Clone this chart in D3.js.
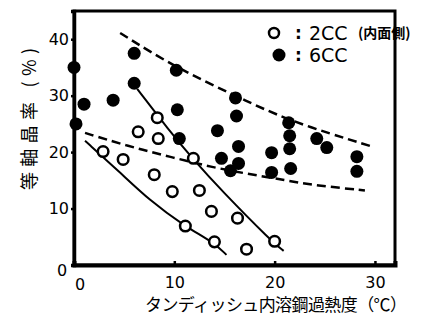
<!DOCTYPE html>
<html>
<head>
<meta charset="utf-8">
<script src="https://cdn.jsdelivr.net/npm/d3@7"></script>
<style>
  body { margin: 0; background: #fff; }
  svg { display: block; }
  .tick text { font-family: "DejaVu Sans", sans-serif; font-size: 16px; fill: #000; }
</style>
</head>
<body>
<div class="chart"></div>
<script>
var width = 425;
var height = 322;

// 2CC (inner side) - open circles
var cc2 = [[2.9, 20.1], [4.9, 18.7], [6.4, 23.6], [8.3, 26.1], [8.4, 22.4],
    [8.0, 16.0], [9.8, 13.0], [11.9, 18.9], [12.5, 13.2], [13.7, 9.5],
    [11.1, 6.9], [16.3, 8.3], [14.0, 4.1], [17.2, 2.8], [20.0, 4.2]];

// 6CC - filled circles
var cc6 = [[0, 35], [0.2, 25], [1, 28.5], [3.9, 29.2], [6, 37.5], [6, 32.2],
    [10.2, 34.5], [10.3, 27.5], [10.5, 22.4], [16.1, 29.6], [16.2, 26.4],
    [14.3, 23.8], [16.4, 21.0], [14.7, 18.9], [16.4, 18.0], [15.6, 16.7],
    [19.7, 19.9], [19.7, 16.4], [21.4, 25.2], [21.5, 22.9], [21.5, 20.6],
    [21.6, 17.1], [24.2, 22.4], [25.2, 20.8], [28.2, 19.2], [28.2, 16.6]];

// band curves (dashed) and trend curves (solid)
var upperBand = [[4.6, 41.1], [10.2, 34.9], [16.1, 30.0], [21.4, 25.5], [29.7, 21.0]];
var lowerBand = [[1.1, 23.4], [5.3, 21.1], [9.5, 19.2], [13.8, 17.3], [17.2, 16.2], [21.1, 15.0], [24.1, 14.1], [29.0, 13.2]];
var trend2cc = [[1.1, 22.0], [4.6, 16.4], [7.5, 11.5], [11.0, 6.9], [14.0, 3.9], [15.2, 1.8]];
var trend6cc = [[6.3, 31.2], [9.5, 23.8], [11.8, 18.9], [14.7, 13.2], [19.7, 4.2], [20.9, 2.5]];

var xTicks = [10, 20, 30];
var yTicks = [10, 20, 30, 40];

var margin = {left: 74, right: 30, top: 11, bottom: 57};

var x = d3.scaleLinear().domain([0, 32]).range([margin.left, width - margin.right]);
var y = d3.scaleLinear().domain([0, 45]).range([height - margin.bottom, margin.top]);

var svg = d3.select(".chart")
    .append("svg")
    .attr("width", width)
    .attr("height", height);

var line = d3.line()
    .x(function (d) { return x(d[0]); })
    .y(function (d) { return y(d[1]); })
    .curve(d3.curveBasis);

// frame
svg.append("rect")
    .attr("x", x(0))
    .attr("y", y(45))
    .attr("width", x(32) - x(0))
    .attr("height", y(0) - y(45))
    .style("fill", "none")
    .style("stroke", "#000")
    .style("stroke-width", 3);

var xAxis = svg.append("g")
    .attr("transform", "translate(0," + y(0) + ")")
    .call(d3.axisBottom(x).tickValues(xTicks).tickSize(-4).tickPadding(12).tickFormat(d3.format("d")));

var yAxis = svg.append("g")
    .attr("transform", "translate(" + x(0) + ",0)")
    .call(d3.axisLeft(y).tickValues(yTicks).tickSize(3).tickPadding(2).tickFormat(d3.format("d")));

xAxis.select(".domain").style("stroke-width", 4);
yAxis.select(".domain").style("stroke-width", 3.5);
svg.selectAll(".tick line").style("stroke-width", 2.5);

// origin labels
svg.append("text")
    .attr("x", x(0) - 12).attr("y", y(0) + 11)
    .attr("text-anchor", "middle")
    .style("font-family", "DejaVu Sans").style("font-size", "16px")
    .text("0");
svg.append("text")
    .attr("x", x(0) + 6).attr("y", y(0) + 25)
    .attr("text-anchor", "middle")
    .style("font-family", "DejaVu Sans").style("font-size", "16px")
    .text("0");

// curves
svg.append("path").attr("d", line(upperBand))
    .style("fill", "none").style("stroke", "#000").style("stroke-width", 2.5).style("stroke-dasharray", "9,5");
svg.append("path").attr("d", line(lowerBand))
    .style("fill", "none").style("stroke", "#000").style("stroke-width", 2.5).style("stroke-dasharray", "9,5");
svg.append("path").attr("d", line(trend2cc))
    .style("fill", "none").style("stroke", "#000").style("stroke-width", 2);
svg.append("path").attr("d", line(trend6cc))
    .style("fill", "none").style("stroke", "#000").style("stroke-width", 2);

// points
svg.selectAll("circle.cc6")
    .data(cc6)
    .enter()
    .append("circle")
    .attr("class", "cc6")
    .attr("cx", function (d) { return x(d[0]); })
    .attr("cy", function (d) { return y(d[1]); })
    .attr("r", 6.5)
    .style("fill", "#000");

svg.selectAll("circle.cc2")
    .data(cc2)
    .enter()
    .append("circle")
    .attr("class", "cc2")
    .attr("cx", function (d) { return x(d[0]); })
    .attr("cy", function (d) { return y(d[1]); })
    .attr("r", 5.3)
    .style("fill", "#fff")
    .style("stroke", "#000")
    .style("stroke-width", 2.5);

// legend
var leg = svg.append("g").style("font-family", "DejaVu Sans");
leg.append("circle").attr("cx", 274).attr("cy", 33).attr("r", 5)
    .style("fill", "#fff").style("stroke", "#000").style("stroke-width", 2.5);
leg.append("circle").attr("cx", 279).attr("cy", 55).attr("r", 6.5).style("fill", "#000");
leg.append("text").attr("x", 295).attr("y", 39).style("font-size", "17px").style("font-weight", "bold").text(":");
leg.append("text").attr("x", 295).attr("y", 61).style("font-size", "17px").style("font-weight", "bold").text(":");
leg.append("text").attr("x", 309).attr("y", 40).style("font-size", "19px").text("2CC");
leg.append("text").attr("x", 309).attr("y", 62).style("font-size", "19px").text("6CC");
leg.append("text").attr("x", 358).attr("y", 38)
    .style("font-family", "Noto Sans CJK JP").style("font-size", "14px").style("font-weight", "bold")
    .text("(内面側)");

// axis titles
svg.append("text")
    .attr("x", 276).attr("y", 311)
    .attr("text-anchor", "middle")
    .attr("textLength", 262)
    .style("font-family", "Noto Sans CJK JP").style("font-size", "17px")
    .text("タンディッシュ内溶鋼過熱度（℃）");

svg.append("text")
    .attr("transform", "translate(36,119) rotate(-90)")
    .attr("text-anchor", "middle")
    .attr("textLength", 142)
    .style("font-family", "Noto Sans CJK JP").style("font-size", "18px")
    .text("等軸晶率 (%)");
</script>
</body>
</html>
